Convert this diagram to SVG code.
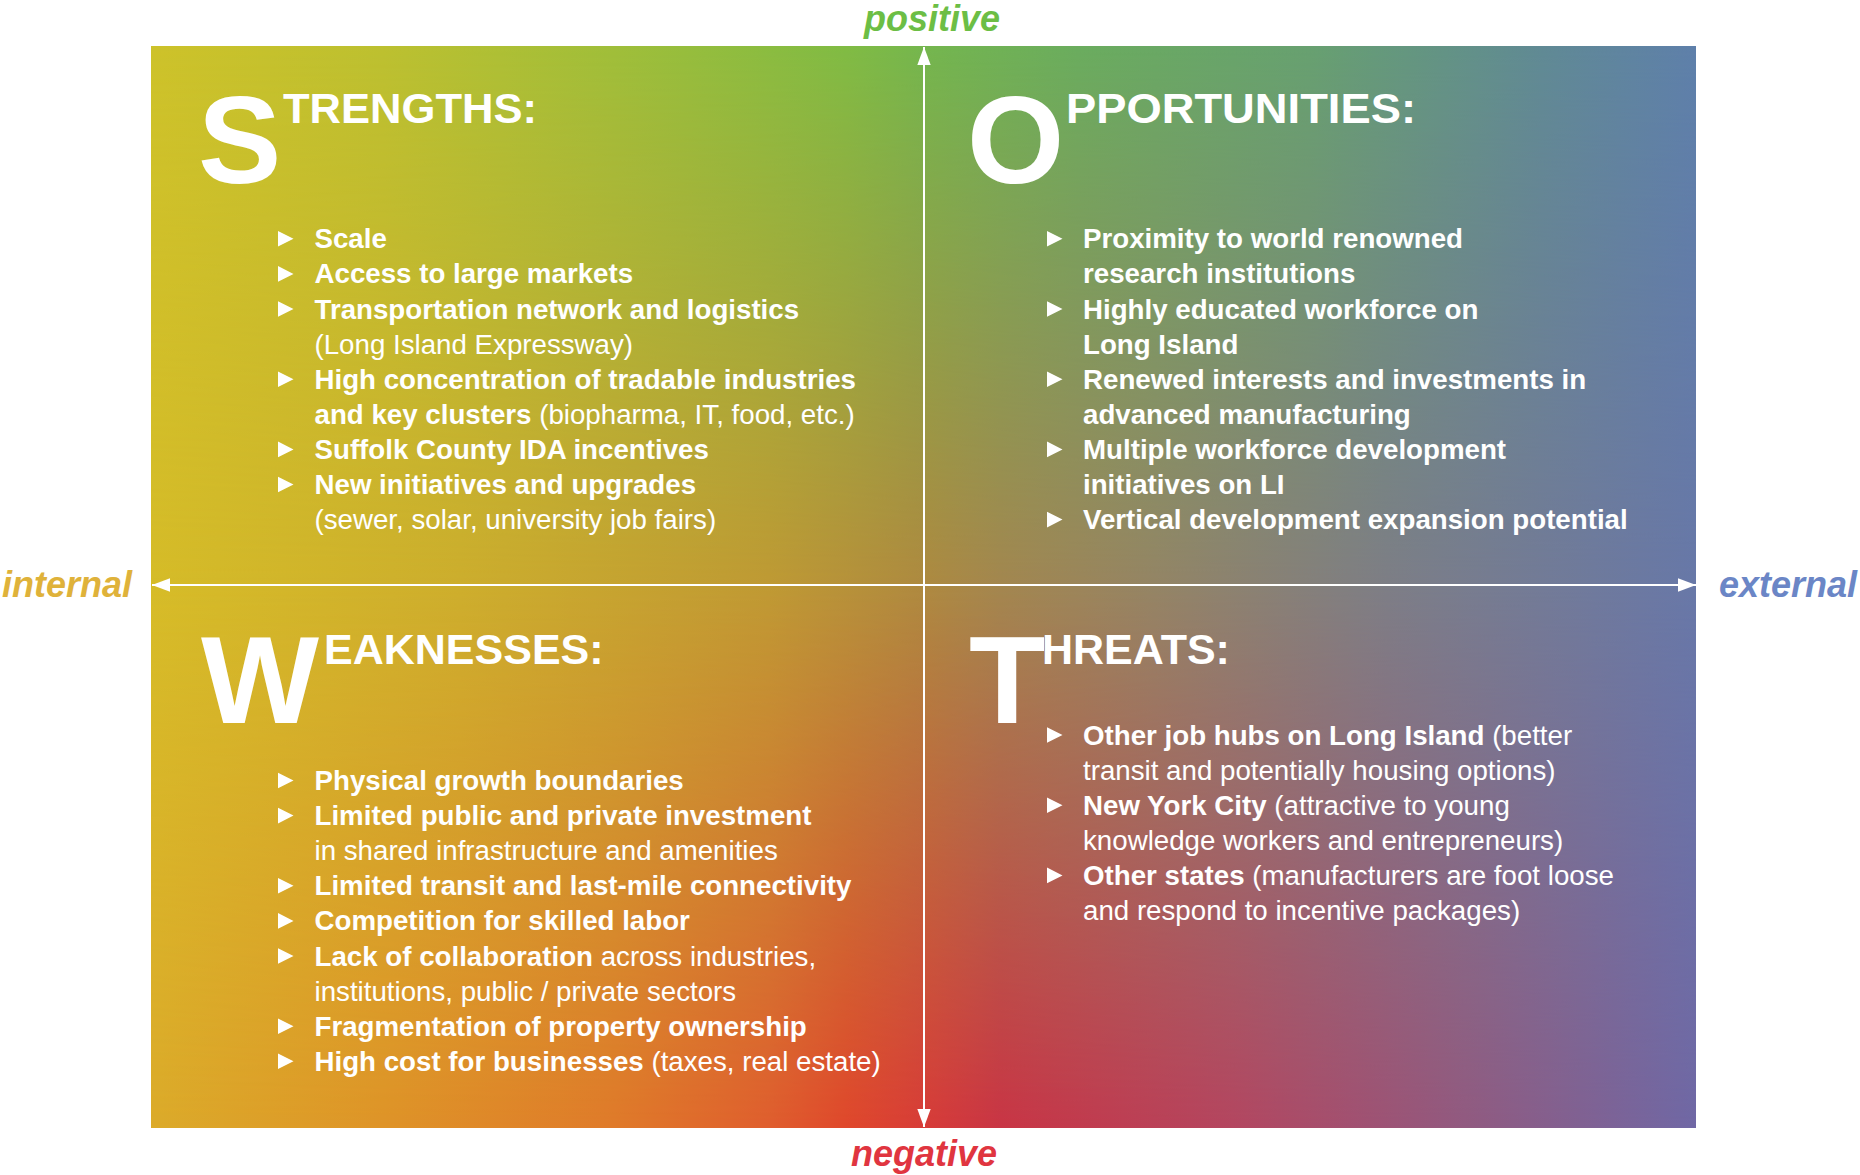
<svg xmlns="http://www.w3.org/2000/svg" width="1860" height="1175" viewBox="0 0 1860 1175">
<style>
.body{font-family:"Liberation Sans",Arial,sans-serif;font-size:27.7px;fill:#fff}
.b{font-weight:700}
.r{font-weight:400}
.big{font-family:"Liberation Sans",Arial,sans-serif;font-weight:700;font-size:125px;fill:#fff}
.head{font-family:"Liberation Sans",Arial,sans-serif;font-weight:700;font-size:43px;fill:#fff}
.axis{font-family:"Liberation Sans",Arial,sans-serif;font-weight:700;font-style:italic;font-size:36px}
.bul{fill:#fff}
.ax{stroke:#fff;stroke-width:2;fill:none;marker-start:url(#ah);marker-end:url(#ah)}
</style>
<defs>
<linearGradient id="gTop" gradientUnits="userSpaceOnUse" x1="151" y1="0" x2="1696" y2="0">
<stop offset="0" stop-color="#cdc22a"/>
<stop offset="0.15" stop-color="#bcc030"/>
<stop offset="0.3" stop-color="#9fbe3a"/>
<stop offset="0.45" stop-color="#80bb44"/>
<stop offset="0.5" stop-color="#74b64e"/>
<stop offset="0.6" stop-color="#6aac5e"/>
<stop offset="0.75" stop-color="#67a070"/>
<stop offset="0.9" stop-color="#608a94"/>
<stop offset="1" stop-color="#5e80aa"/>
</linearGradient>
<linearGradient id="gMid" gradientUnits="userSpaceOnUse" x1="151" y1="0" x2="1696" y2="0">
<stop offset="0" stop-color="#d6bc28"/>
<stop offset="0.2" stop-color="#cdae2d"/>
<stop offset="0.4" stop-color="#bf9a34"/>
<stop offset="0.5" stop-color="#ae8a40"/>
<stop offset="0.55" stop-color="#a3874f"/>
<stop offset="0.65" stop-color="#948565"/>
<stop offset="0.8" stop-color="#7d7e86"/>
<stop offset="1" stop-color="#6878a8"/>
</linearGradient>
<linearGradient id="gBot" gradientUnits="userSpaceOnUse" x1="151" y1="0" x2="1696" y2="0">
<stop offset="0" stop-color="#dcab2a"/>
<stop offset="0.15" stop-color="#df9428"/>
<stop offset="0.3" stop-color="#e07a2a"/>
<stop offset="0.4" stop-color="#e05e2e"/>
<stop offset="0.45" stop-color="#e0482c"/>
<stop offset="0.5" stop-color="#d83c38"/>
<stop offset="0.55" stop-color="#c93545"/>
<stop offset="0.7" stop-color="#b44660"/>
<stop offset="0.85" stop-color="#925a80"/>
<stop offset="1" stop-color="#7068a5"/>
</linearGradient>
<linearGradient id="mTopG" gradientUnits="userSpaceOnUse" x1="0" y1="46" x2="0" y2="585">
<stop offset="0" stop-color="#fff"/>
<stop offset="1" stop-color="#000"/>
</linearGradient>
<linearGradient id="mMidG" gradientUnits="userSpaceOnUse" x1="0" y1="585" x2="0" y2="1128">
<stop offset="0" stop-color="#fff"/>
<stop offset="1" stop-color="#000"/>
</linearGradient>
<mask id="mTop" maskUnits="userSpaceOnUse" x="0" y="0" width="1860" height="1175">
<rect x="151" y="46" width="1545" height="1082" fill="url(#mTopG)"/>
</mask>
<mask id="mMid" maskUnits="userSpaceOnUse" x="0" y="0" width="1860" height="1175">
<rect x="151" y="46" width="1545" height="1082" fill="url(#mMidG)"/>
</mask>
<marker id="ah" markerUnits="userSpaceOnUse" markerWidth="20" markerHeight="14" refX="18" refY="6.7" orient="auto-start-reverse" viewBox="0 0 20 14">
<path d="M0,0 L18,6.7 L0,13.4 Z" fill="#fff"/>
</marker>
<polygon id="tri" points="0,-7.8 0,7.8 15.5,0"/>
</defs>

<g id="background">
<rect x="151" y="46" width="1545" height="1082" fill="url(#gBot)"/>
<rect x="151" y="46" width="1545" height="1082" fill="url(#gMid)" mask="url(#mMid)"/>
<rect x="151" y="46" width="1545" height="1082" fill="url(#gTop)" mask="url(#mTop)"/>
</g>

<g id="connectors">
<line class="ax" x1="924" y1="1127" x2="924" y2="47"/>
<line class="ax" x1="1696" y1="585" x2="152" y2="585"/>
</g>

<g id="axis-labels">
<text id="label-positive" class="axis" x="864" y="31" fill="#6cbe45">positive</text>
<text id="label-negative" class="axis" x="851" y="1166" fill="#e03540">negative</text>
<text id="label-internal" class="axis" x="2" y="597" fill="#dfb23a">internal</text>
<text id="label-external" class="axis" x="1719" y="597" fill="#6b86c6">external</text>
</g>

<g id="strengths">
<text class="big" x="198" y="183">S</text>
<text class="head" x="283" y="123" textLength="254" lengthAdjust="spacingAndGlyphs">TRENGTHS:</text>
<g class="bul">
<use href="#tri" x="278" y="238.8"/>
<use href="#tri" x="278" y="273.9"/>
<use href="#tri" x="278" y="309"/>
<use href="#tri" x="278" y="379.2"/>
<use href="#tri" x="278" y="449.4"/>
<use href="#tri" x="278" y="484.5"/>
</g>
<g class="body">
<text x="314.5" y="248.3" class="b">Scale</text>
<text x="314.5" y="283.4" class="b">Access to large markets</text>
<text x="314.5" y="318.5" class="b">Transportation network and logistics</text>
<text x="314.5" y="353.6" class="r">(Long Island Expressway)</text>
<text x="314.5" y="388.7" class="b">High concentration of tradable industries</text>
<text x="314.5" y="423.8"><tspan class="b">and key clusters</tspan><tspan class="r"> (biopharma, IT, food, etc.)</tspan></text>
<text x="314.5" y="458.9" class="b">Suffolk County IDA incentives</text>
<text x="314.5" y="494" class="b">New initiatives and upgrades</text>
<text x="314.5" y="529.1" class="r">(sewer, solar, university job fairs)</text>
</g>
</g>

<g id="opportunities">
<text class="big" x="967" y="183">O</text>
<text class="head" x="1066" y="123" textLength="350" lengthAdjust="spacingAndGlyphs">PPORTUNITIES:</text>
<g class="bul">
<use href="#tri" x="1047" y="238.8"/>
<use href="#tri" x="1047" y="309"/>
<use href="#tri" x="1047" y="379.2"/>
<use href="#tri" x="1047" y="449.4"/>
<use href="#tri" x="1047" y="519.6"/>
</g>
<g class="body b">
<text x="1083" y="248.3">Proximity to world renowned</text>
<text x="1083" y="283.4">research institutions</text>
<text x="1083" y="318.5">Highly educated workforce on</text>
<text x="1083" y="353.6">Long Island</text>
<text x="1083" y="388.7">Renewed interests and investments in</text>
<text x="1083" y="423.8">advanced manufacturing</text>
<text x="1083" y="458.9">Multiple workforce development</text>
<text x="1083" y="494">initiatives on LI</text>
<text x="1083" y="529.1">Vertical development expansion potential</text>
</g>
</g>

<g id="weaknesses">
<text class="big" x="201" y="723">W</text>
<text class="head" x="324" y="664">EAKNESSES:</text>
<g class="bul">
<use href="#tri" x="278" y="780.5"/>
<use href="#tri" x="278" y="815.6"/>
<use href="#tri" x="278" y="885.8"/>
<use href="#tri" x="278" y="920.9"/>
<use href="#tri" x="278" y="956"/>
<use href="#tri" x="278" y="1026.2"/>
<use href="#tri" x="278" y="1061.3"/>
</g>
<g class="body">
<text x="314.5" y="790" class="b">Physical growth boundaries</text>
<text x="314.5" y="825.1" class="b">Limited public and private investment</text>
<text x="314.5" y="860.2" class="r">in shared infrastructure and amenities</text>
<text x="314.5" y="895.3" class="b">Limited transit and last-mile connectivity</text>
<text x="314.5" y="930.4" class="b">Competition for skilled labor</text>
<text x="314.5" y="965.5"><tspan class="b">Lack of collaboration</tspan><tspan class="r"> across industries,</tspan></text>
<text x="314.5" y="1000.6" class="r">institutions, public / private sectors</text>
<text x="314.5" y="1035.7" class="b">Fragmentation of property ownership</text>
<text x="314.5" y="1070.8"><tspan class="b">High cost for businesses</tspan><tspan class="r"> (taxes, real estate)</tspan></text>
</g>
</g>

<g id="threats">
<text class="big" x="969" y="723">T</text>
<text class="head" x="1042" y="664">HREATS:</text>
<g class="bul">
<use href="#tri" x="1047" y="735"/>
<use href="#tri" x="1047" y="805.2"/>
<use href="#tri" x="1047" y="875.4"/>
</g>
<g class="body">
<text x="1083" y="744.5"><tspan class="b">Other job hubs on Long Island</tspan><tspan class="r"> (better</tspan></text>
<text x="1083" y="779.6" class="r">transit and potentially housing options)</text>
<text x="1083" y="814.7"><tspan class="b">New York City</tspan><tspan class="r"> (attractive to young</tspan></text>
<text x="1083" y="849.8" class="r">knowledge workers and entrepreneurs)</text>
<text x="1083" y="884.9"><tspan class="b">Other states</tspan><tspan class="r"> (manufacturers are foot loose</tspan></text>
<text x="1083" y="920" class="r">and respond to incentive packages)</text>
</g>
</g>
</svg>
